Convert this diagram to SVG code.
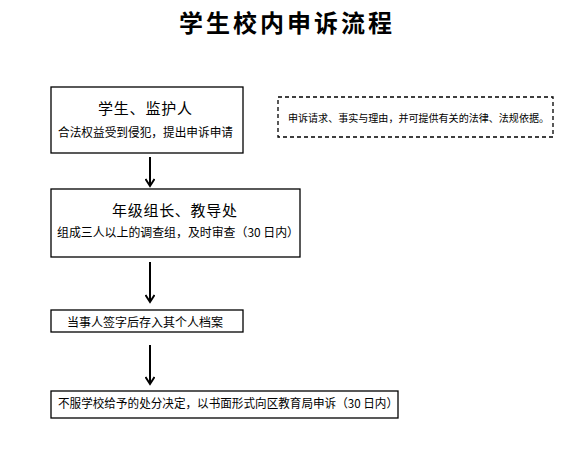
<svg xmlns="http://www.w3.org/2000/svg" width="565" height="449" viewBox="0 0 565 449">
<style>
.box{fill:#fff;stroke:#000;stroke-width:1.3}
.dash{fill:#fff;stroke:#000;stroke-width:1.3;stroke-dasharray:4 3}
.t{font-family:"Noto Sans CJK SC","Liberation Sans",sans-serif;fill:#000}
.h{font-size:15px}
.s{font-size:12px}
.c{stroke:#000;stroke-width:2;fill:none}
</style>
<defs>
<marker id="ah" markerWidth="10" markerHeight="10" refX="8" refY="5" orient="auto" markerUnits="userSpaceOnUse" viewBox="0 0 10 10">
<path d="M1,0.5 L8,5 L1,9.5" fill="none" stroke="#000" stroke-width="2"/>
</marker>
</defs>
<rect width="565" height="449" fill="#fff"/>
<text class="t" x="179" y="32" font-size="24" font-weight="bold" textLength="213" lengthAdjust="spacing">学生校内申诉流程</text>
<g id="node1">
<rect class="box" x="51" y="87" width="192" height="66"/>
<text class="t h" x="98" y="114" textLength="94" lengthAdjust="spacing">学生、监护人</text>
<text class="t s" x="58" y="137" textLength="175" lengthAdjust="spacingAndGlyphs">合法权益受到侵犯，提出申诉申请</text>
</g>
<g id="note">
<rect class="dash" x="278" y="97" width="275" height="40"/>
<text class="t" x="288" y="122" font-size="10" textLength="261" lengthAdjust="spacingAndGlyphs">申诉请求、事实与理由，并可提供有关的法律、法规依据。</text>
</g>
<g id="node2">
<rect class="box" x="51" y="189" width="249" height="68"/>
<text class="t h" x="112" y="216" textLength="125" lengthAdjust="spacing">年级组长、教导处</text>
<text class="t s" x="57" y="237" textLength="242" lengthAdjust="spacingAndGlyphs">组成三人以上的调查组，及时审查（30 日内）</text>
</g>
<g id="node3">
<rect class="box" x="51" y="310" width="192" height="22"/>
<text class="t s" x="67" y="327" textLength="156" lengthAdjust="spacingAndGlyphs">当事人签字后存入其个人档案</text>
</g>
<g id="node4">
<rect class="box" x="51" y="391" width="347" height="27"/>
<text class="t s" x="58" y="408" textLength="340" lengthAdjust="spacingAndGlyphs">不服学校给予的处分决定，以书面形式向区教育局申诉（30 日内）</text>
</g>
<g id="connectors">
<line class="c" x1="150" y1="157" x2="150" y2="186" marker-end="url(#ah)"/>
<line class="c" x1="150" y1="262" x2="150" y2="302" marker-end="url(#ah)"/>
<line class="c" x1="150" y1="345" x2="150" y2="384" marker-end="url(#ah)"/>
</g>
</svg>
